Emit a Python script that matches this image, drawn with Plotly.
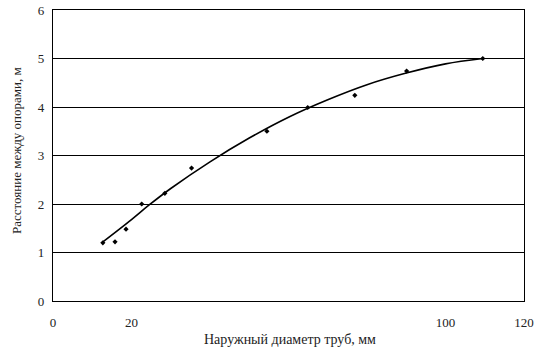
import plotly.graph_objects as go

# Measured points (outer pipe diameter, mm -> support spacing, m)
pts_x = [12.7, 15.8, 18.6, 22.6, 28.5, 35.3, 54.5, 64.9, 76.9, 90.1, 109.5]
pts_y = [1.20, 1.22, 1.48, 2.00, 2.22, 2.74, 3.50, 3.99, 4.24, 4.74, 5.00]

# Trend curve
curve_x = [12.7, 20, 24.5, 30, 40, 50, 60, 70, 80, 90, 100, 109.5]
curve_y = [1.22, 1.68, 1.98, 2.32, 2.87, 3.36, 3.79, 4.15, 4.46, 4.70, 4.89, 5.00]

x_ticks = [0, 20, 100, 120]
y_ticks = [0, 1, 2, 3, 4, 5, 6]

FONT = "Liberation Serif, Times New Roman, serif"

fig = go.Figure()
fig.add_trace(go.Scatter(x=curve_x, y=curve_y, mode="lines", line=dict(color="black", width=1.6, shape="spline"),
                         hoverinfo="skip", showlegend=False))
fig.add_trace(go.Scatter(x=pts_x, y=pts_y, mode="markers",
                         marker=dict(symbol="diamond", size=4, color="black"), showlegend=False))

fig.update_layout(
    width=542, height=353,
    margin=dict(l=53, r=18, t=10, b=52),
    paper_bgcolor="white", plot_bgcolor="white",
    font=dict(family=FONT, size=13, color="#222"),
    xaxis=dict(range=[0, 120], tickvals=x_ticks, showgrid=False, zeroline=False, automargin=False,
               showline=True, linecolor="black", linewidth=1.2, mirror=True,
               ticks="", ticklabelstandoff=9, tickfont=dict(size=13)),
    yaxis=dict(range=[0, 6], tickvals=y_ticks, showgrid=True, gridcolor="black", gridwidth=1.2,
               zeroline=False, showline=True, linecolor="black", linewidth=1.2, mirror=True,
               automargin=False, ticks="", ticklabelstandoff=5, tickfont=dict(size=13)),
    annotations=[
        dict(text="Наружный диаметр труб, мм", xref="paper", yref="paper",
             x=(290 - 53) / 471, y=(301 - 339) / 291, xanchor="center", yanchor="middle", showarrow=False,
             font=dict(size=14, family=FONT)),
        dict(text="Расстояние между опорами, м", xref="paper", yref="paper",
             x=(16 - 53) / 471, y=(301 - 151) / 291, xanchor="center", yanchor="middle", textangle=-90,
             showarrow=False, font=dict(size=13, family=FONT)),
    ],
)

fig.write_html("out.html")
